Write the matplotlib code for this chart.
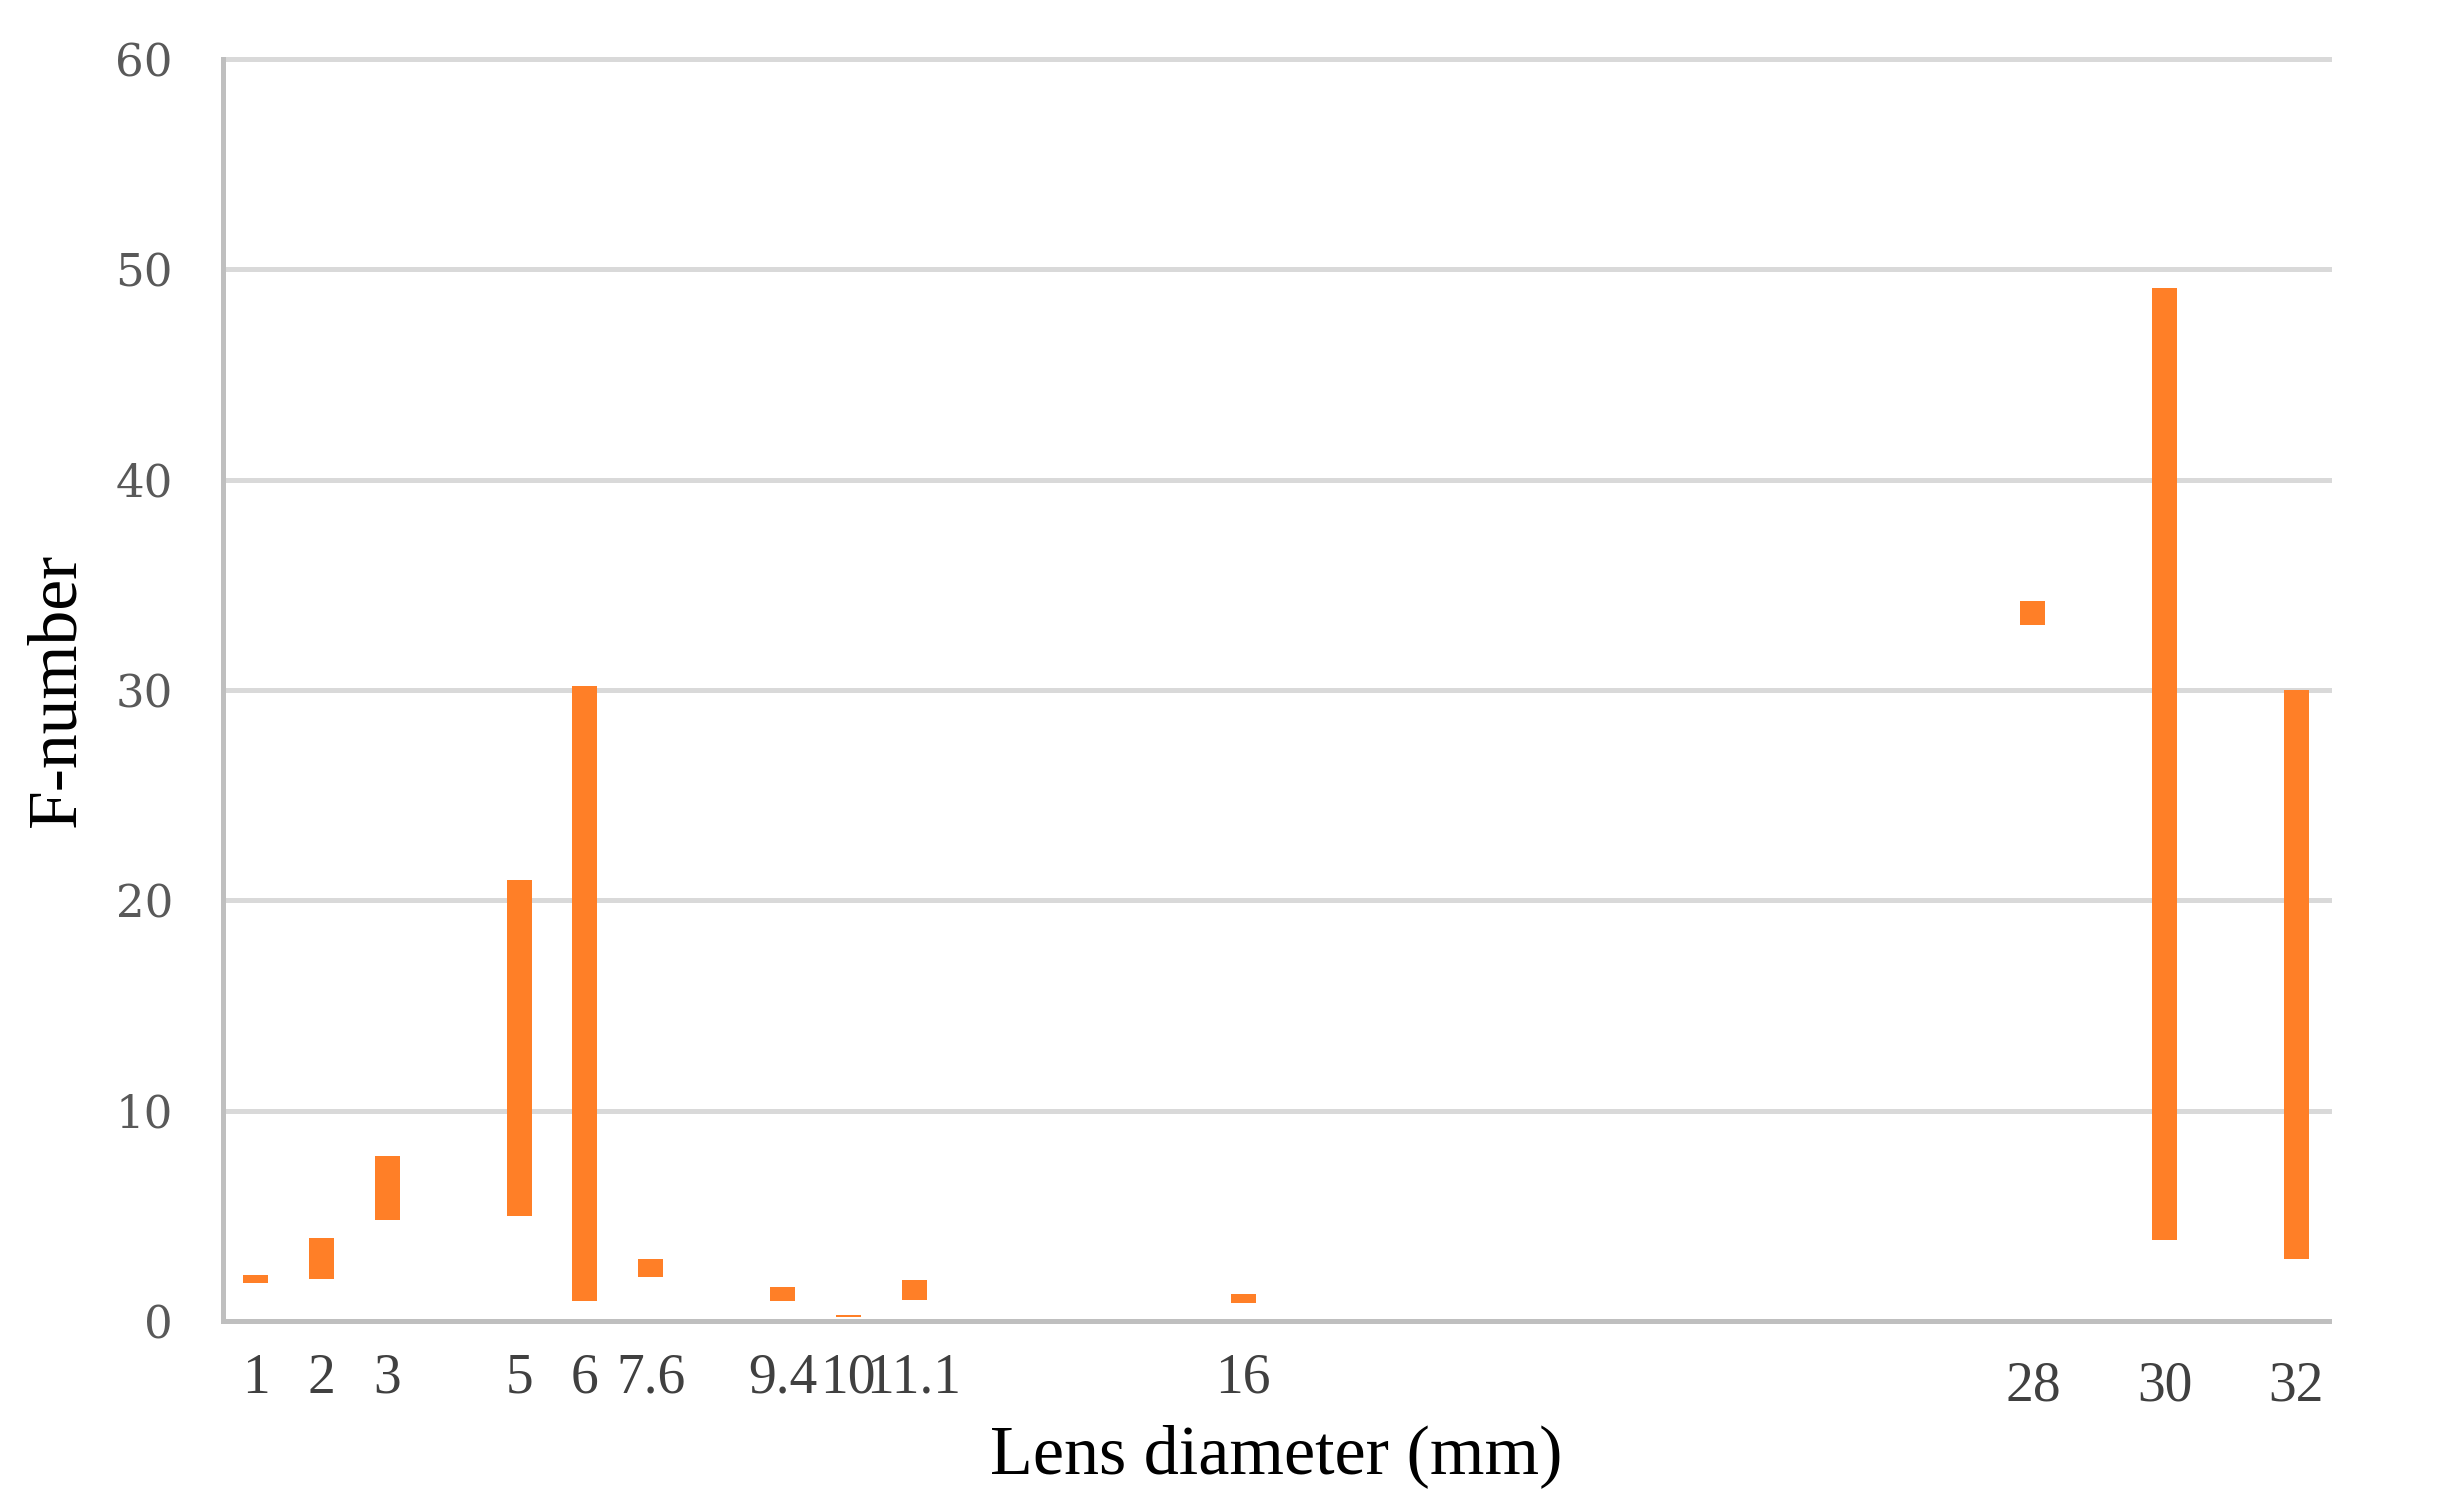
import numpy as np
import matplotlib
matplotlib.use("Agg")
import matplotlib.pyplot as plt
from matplotlib.transforms import ScaledTranslation

# ---- data ----
diam_labels = ['1', '2', '3', '5', '6', '7.6', '9.4', '10', '11.1', '16', '28', '30', '32']
diam_values = [1, 2, 3, 5, 6, 7.6, 9.4, 10, 11.1, 16, 28, 30, 32]
f_low = [1.8, 2.0, 4.8, 5.0, 0.95, 2.1, 0.95, 0.2, 1.0, 0.85, 33.1, 3.85, 2.95]
f_high = [2.2, 3.95, 7.85, 20.95, 30.2, 2.95, 1.6, 0.3, 1.95, 1.3, 34.25, 49.1, 30.0]
y_ticks = [0, 10, 20, 30, 40, 50, 60]

# date-like axis: positions truncated to whole units (as in the original chart)
xpos = np.floor(np.array(diam_values, dtype=float))
low = np.array(f_low)
high = np.array(f_high)

fig = plt.figure(figsize=(24.44, 15.10), dpi=100)
ax = fig.add_axes([223 / 2444, 1 - 1321 / 1510, (2329 - 223) / 2444, (1321 - 59) / 1510])

ax.bar(xpos, high - low, bottom=low, width=0.38, color='#FF7F27',
       edgecolor='none', zorder=3)

ax.set_xlim(0.5, 32.5)
ax.set_ylim(0, 60)

# grid + spines
ax.set_yticks(y_ticks)
ax.yaxis.grid(True, color='#D9D9D9', linewidth=3.6, zorder=0)
ax.set_axisbelow(True)
for gl in ax.get_ygridlines():
    gl.set_clip_on(False)
for s in ['top', 'right']:
    ax.spines[s].set_visible(False)
for s in ['left', 'bottom']:
    ax.spines[s].set_color('#BFBFBF')
    ax.spines[s].set_linewidth(3.6)
    ax.spines[s].set_zorder(4)

ax.set_xticks(xpos, diam_labels)
ax.tick_params(axis='both', length=0)
ax.tick_params(axis='y', pad=36, labelsize=32.5, labelcolor='#595959')
ax.tick_params(axis='x', pad=23, labelsize=40, labelcolor='#404040')
for t in ax.get_yticklabels():
    t.set_fontfamily('DejaVu Serif')
for i, t in enumerate(ax.get_xticklabels()):
    t.set_fontfamily('Liberation Serif')
    if diam_values[i] >= 28:
        t.set_transform(t.get_transform() + ScaledTranslation(0, -0.08, fig.dpi_scale_trans))

ax.set_xlabel('Lens diameter (mm)', fontsize=50.5, family='Liberation Serif',
              color='black', va='center')
ax.xaxis.set_label_coords(0.5, (1321 - 1456) / 1262)
ax.set_ylabel('F-number', fontsize=50, family='Liberation Serif',
              color='black', va='center')
ax.yaxis.set_label_coords((58 - 223) / 2106, 0.5)

fig.savefig('out.png', dpi=100, facecolor='white')
